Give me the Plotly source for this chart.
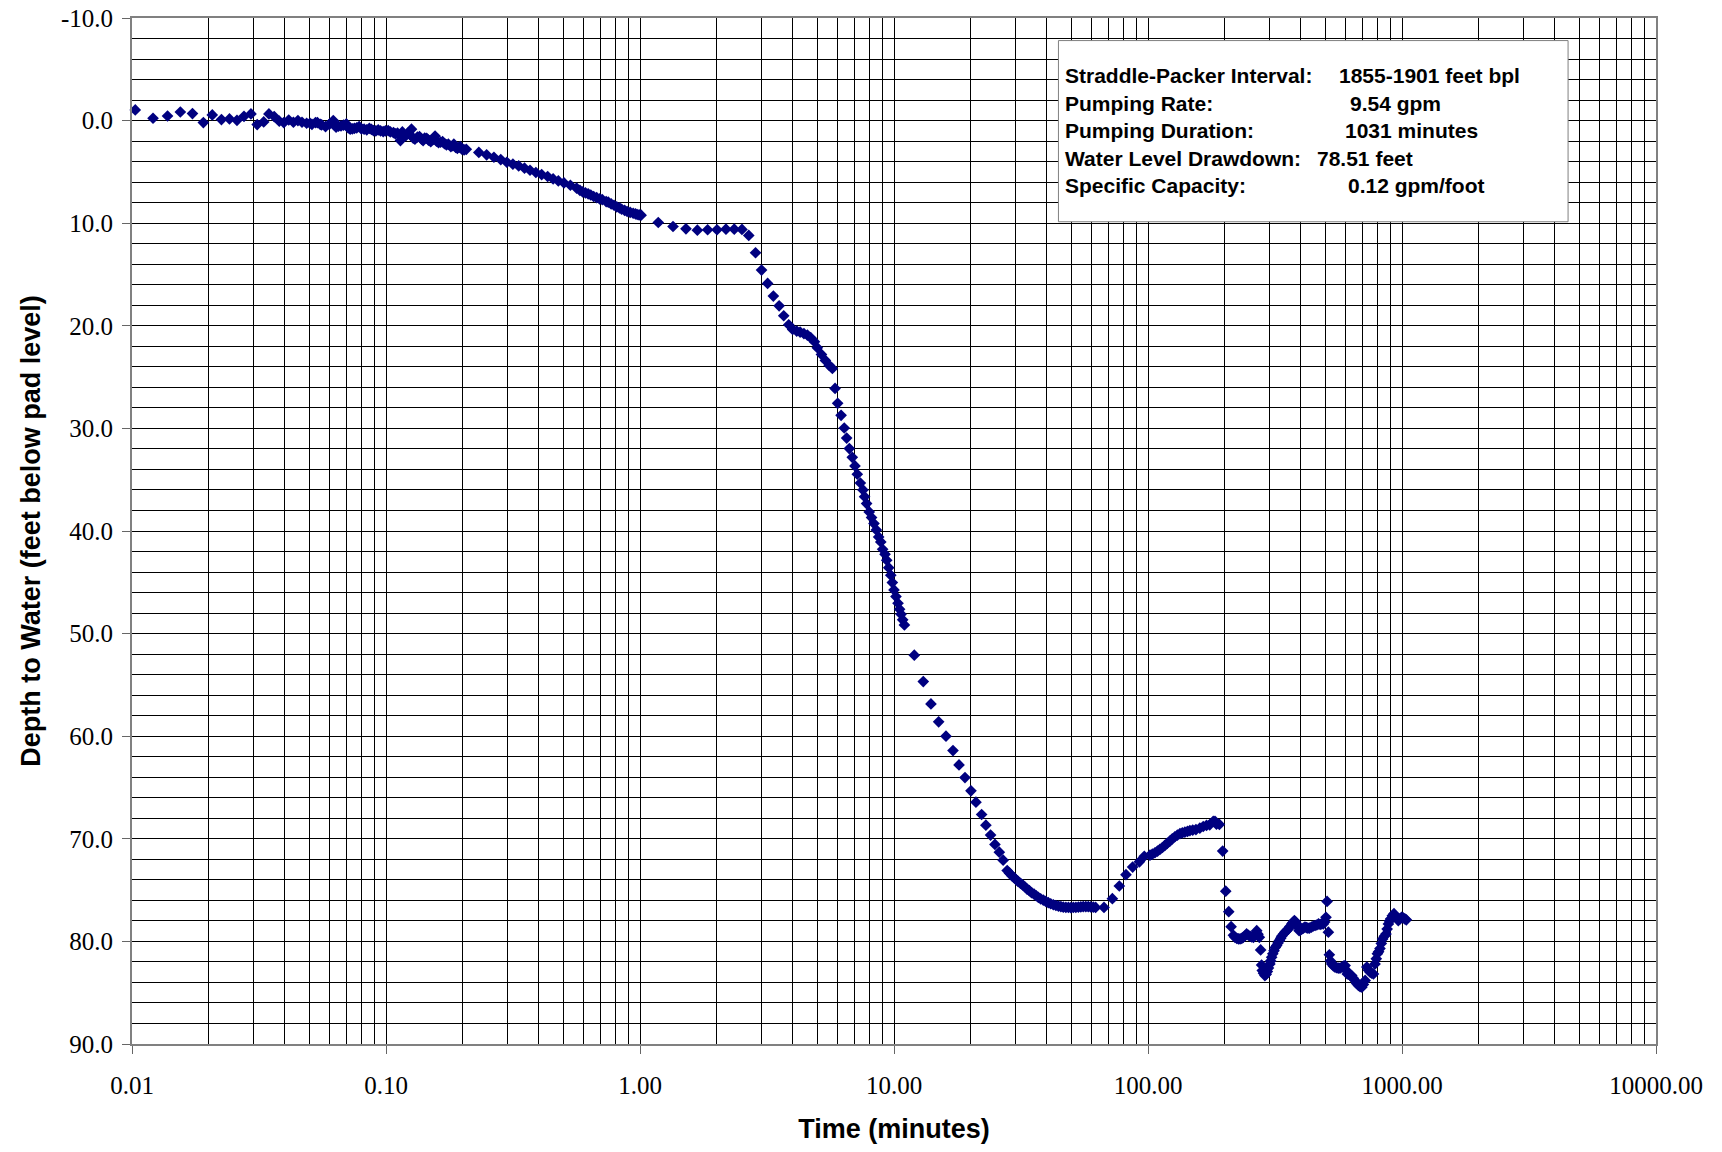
import plotly.graph_objects as go

# ---------------- data (time in minutes, depth to water in feet bpl) ----------------
t_a = [0.0103, 0.0121, 0.0138, 0.0155, 0.0173, 0.0191, 0.0207, 0.0225, 0.0242, 0.0259,
       0.0276, 0.0294, 0.0311, 0.0330, 0.0346, 0.0363, 0.0380, 0.0396]
d_a = [-1.04, -0.23, -0.45, -0.84, -0.68, 0.19, -0.55, -0.10, -0.16, -0.03,
       -0.42, -0.65, 0.39, 0.13, -0.65, -0.39, 0.06, 0.19]

t_b = [0.0414, 0.0432, 0.0450, 0.0467, 0.0487, 0.0502, 0.0511, 0.0528, 0.0537, 0.0551,
       0.0558, 0.0578, 0.0598, 0.0620, 0.0636, 0.0650, 0.0665, 0.0680, 0.0698, 0.0710,
       0.0723, 0.0737, 0.0751, 0.0767, 0.0784, 0.0800, 0.0820, 0.0840, 0.0860, 0.0876,
       0.0893, 0.0912, 0.0932, 0.0952, 0.0975, 0.0995, 0.102, 0.104, 0.107, 0.109,
       0.111, 0.114, 0.116, 0.118, 0.120, 0.1226, 0.126, 0.128, 0.130, 0.133,
       0.1355, 0.138, 0.140, 0.142, 0.1446, 0.147, 0.150, 0.153, 0.156, 0.158,
       0.161, 0.164, 0.167, 0.170, 0.173, 0.176, 0.180, 0.183, 0.185, 0.188,
       0.191, 0.194, 0.196, 0.199, 0.203, 0.207]
d_b = [-0.06, 0.16, 0.00, 0.16, 0.26, 0.26, 0.36, 0.19, 0.19, 0.36,
       0.42, 0.58, 0.36, 0.00, 0.65, 0.55, 0.52, 0.45, 0.32, 0.70,
       0.84, 0.80, 0.75, 0.70, 0.58, 0.80, 0.84, 0.90, 0.75, 0.85,
       0.97, 1.00, 0.91, 1.00, 1.07, 1.00, 0.97, 1.10, 1.17, 1.30,
       1.23, 1.95, 1.10, 1.40, 1.45, 1.17, 0.84, 1.70, 1.82, 1.60,
       1.56, 1.80, 1.95, 1.70, 1.72, 1.90, 2.05, 1.85, 1.50, 2.00,
       2.14, 2.10, 2.05, 2.25, 2.37, 2.30, 2.53, 2.45, 2.30, 2.60,
       2.70, 2.60, 2.53, 2.79, 2.86, 2.80]

t_c = [0.232, 0.249, 0.266, 0.283, 0.299, 0.316, 0.333, 0.351, 0.369, 0.389,
       0.410, 0.433, 0.455, 0.477, 0.502, 0.532, 0.563, 0.580, 0.595, 0.610,
       0.625, 0.640, 0.657, 0.675, 0.694, 0.710, 0.736, 0.750, 0.770, 0.790,
       0.810, 0.830, 0.847, 0.870, 0.890, 0.915, 0.940, 0.960, 0.975, 0.992, 1.01]
d_c = [3.10, 3.34, 3.57, 3.80, 4.06, 4.25, 4.42, 4.64, 4.84, 5.06,
       5.26, 5.45, 5.68, 5.88, 6.07, 6.30, 6.59, 6.80, 6.95, 7.05,
       7.14, 7.25, 7.40, 7.50, 7.63, 7.70, 7.89, 7.95, 8.12, 8.25,
       8.41, 8.50, 8.64, 8.75, 8.86, 8.95, 9.03, 9.10, 9.15, 9.19, 9.22]

t_d = [1.18, 1.349, 1.517, 1.682, 1.846, 2.01, 2.18, 2.35, 2.52, 2.68,
       2.85, 3.01, 3.18, 3.35, 3.53, 3.68, 3.85, 3.99, 4.14, 4.27,
       4.42, 4.56, 4.70, 4.86, 4.99, 5.18, 5.37, 5.56, 5.72, 5.86,
       6.00, 6.19, 6.37, 6.51, 6.67, 6.85, 7.02, 7.17, 7.37, 7.55,
       7.66, 7.80, 7.99, 8.16, 8.34, 8.52, 8.70, 8.87, 9.02, 9.22,
       9.36, 9.53, 9.71, 9.85, 10.0, 10.18, 10.37, 10.52, 10.66, 10.82, 10.99]
d_d = [9.93, 10.32, 10.55, 10.68, 10.64, 10.64, 10.58, 10.58, 10.61, 11.19,
       12.88, 14.57, 15.87, 17.10, 18.05, 19.02, 19.90, 20.35, 20.51, 20.61,
       20.77, 20.90, 21.16, 21.55, 22.14, 22.79, 23.37, 23.86, 24.15, 26.10,
       27.56, 28.73, 29.96, 30.94, 31.97, 32.82, 33.66, 34.47, 35.32, 36.00,
       36.65, 37.33, 38.14, 38.69, 39.28, 39.90, 40.58, 41.06, 41.78, 42.27,
       42.85, 43.57, 44.31, 45.03, 45.74, 46.39, 47.04, 47.62, 48.11, 48.66, 49.15]

t_e = [12.02, 13.04, 13.98, 14.99, 16.02, 17.07, 18.03, 19.03, 20.09, 21.02,
       22.13, 23.0, 24.0, 24.97, 25.98, 26.9, 27.9, 28.5, 29.1, 29.6,
       30.2, 30.8, 31.5, 32.1, 32.8, 33.4, 34.1, 34.8, 35.6, 36.3,
       37.0, 37.8, 38.7]
d_e = [52.1, 54.68, 56.85, 58.6, 60.0, 61.4, 62.8, 64.03, 65.32, 66.43,
       67.63, 68.67, 69.64, 70.55, 71.3, 72.08, 73.1, 73.35, 73.6, 73.75,
       73.96, 74.15, 74.35, 74.5, 74.7, 74.9, 75.06, 75.25, 75.4, 75.55,
       75.7, 75.85, 75.97]

t_f = [39.6, 40.5, 41.4, 42.4, 43.4, 44.4, 45.4, 46.4, 47.5, 48.6,
       49.7, 50.8, 52.0, 53.2, 54.4, 55.6, 56.9, 58.2, 59.5, 60.9, 62.2, 67.1]
d_f = [76.1, 76.23, 76.33, 76.43, 76.5, 76.56, 76.62, 76.66, 76.68, 76.69,
       76.7, 76.69, 76.68, 76.66, 76.64, 76.62, 76.62, 76.62, 76.64, 76.66, 76.69, 76.69]

t_g = [72.4, 77.1, 81.9, 87.0, 92.5, 96.7, 101.8, 104.0, 106.5, 109.0,
       111.4, 114.0, 116.5, 119.0, 121.9, 124.6, 127.6, 130.5, 133.6, 136.5,
       139.7, 143.0, 146.2, 150.0, 154.4, 160.0, 165.0, 170.0, 175.0, 180.7,
       183.6, 186.0, 191.0, 196.8]
d_g = [75.84, 74.6, 73.5, 72.76, 72.24, 71.7, 71.6, 71.5, 71.36, 71.2,
       71.04, 70.85, 70.65, 70.45, 70.23, 70.0, 69.8, 69.65, 69.5, 69.42,
       69.35, 69.28, 69.2, 69.15, 69.1, 68.95, 68.8, 68.7, 68.64, 68.3,
       68.3, 68.57, 68.6, 71.2]

t_h = [202.3, 207.9, 212.4, 216.9, 220, 223.6, 227, 230.4, 234, 237,
       241, 244.5, 248.4, 252.3, 256, 260, 264, 268, 271, 274.4,
       277.6, 280, 281.8, 285, 288.6, 292, 295, 298, 302, 304,
       306.8, 310, 313.5, 317, 321, 325, 329, 333, 336, 341,
       346, 351, 357, 362, 368, 372, 377, 381, 385, 389,
       393.5, 398, 403, 409, 415, 421, 426, 432, 440, 448,
       455, 462, 469, 476, 483, 490, 496, 502, 507, 513,
       517.6, 523, 529, 537, 545, 553, 561, 570, 580, 589,
       597, 603, 609, 616, 624, 634, 643, 653, 663, 674,
       684, 695, 705, 716, 727, 738, 749, 760, 772, 783,
       792, 800, 809, 819, 829, 839, 852, 865, 874, 884,
       893, 903, 916, 930, 948, 967, 982, 996, 1010, 1026,
       1040]
d_h = [75.1, 77.1, 78.56, 79.4, 79.6, 79.7, 79.75, 79.76, 79.7, 79.6,
       79.45, 79.27, 79.4, 79.5, 79.55, 79.6, 79.3, 78.95, 79.3, 79.6,
       80.83, 82.3, 82.84, 83.1, 83.33, 83.2, 82.94, 82.6, 82.2, 81.9,
       81.55, 81.2, 80.9, 80.6, 80.4, 80.15, 79.92, 79.7, 79.5, 79.3,
       79.1, 78.95, 78.8, 78.55, 78.3, 78.15, 77.97, 78.1, 78.3, 78.6,
       78.95, 78.9, 78.8, 78.7, 78.6, 78.65, 78.7, 78.7, 78.6, 78.5,
       78.45, 78.4, 78.3, 78.35, 78.3, 78.3, 78.1, 77.65, 76.1, 79.1,
       81.3, 81.9, 82.2, 82.4, 82.5, 82.55, 82.6, 82.6, 82.5, 82.4,
       82.36, 82.8, 83.17, 83.2, 83.3, 83.33, 83.6, 83.8, 84.1, 84.3,
       84.4, 84.47, 84.2, 83.8, 82.5, 82.8, 83.0, 83.1, 83.17, 82.2,
       81.7, 81.2, 81.0, 80.7, 80.2, 79.76, 79.5, 79.27, 78.8, 78.3,
       78.0, 77.8, 77.5, 77.3, 77.6, 77.97, 77.8, 77.65, 77.7, 77.8,
       77.9]

time_min = t_a + t_b + t_c + t_d + t_e + t_f + t_g + t_h
depth_ft = d_a + d_b + d_c + d_d + d_e + d_f + d_g + d_h
assert len(time_min) == len(depth_ft)

x_tick_vals = [0.01, 0.1, 1, 10, 100, 1000, 10000]
x_tick_text = ["0.01", "0.10", "1.00", "10.00", "100.00", "1000.00", "10000.00"]
x_minor_vals = [m * 10 ** e for e in range(-2, 4) for m in range(2, 10)]
y_tick_vals = list(range(-10, 91, 10))
y_tick_text = [f"{v:.1f}" for v in y_tick_vals]

info_labels = ["Straddle-Packer Interval:", "Pumping Rate:", "Pumping Duration:",
               "Water Level Drawdown:", "Specific Capacity:"]
info_values = ["1855-1901 feet bpl", "9.54 gpm", "1031 minutes", "78.51 feet", "0.12 gpm/foot"]

# ---------------- figure ----------------
fig = go.Figure()
fig.add_trace(go.Scatter(
    x=time_min, y=depth_ft, mode="markers",
    marker=dict(symbol="diamond", size=9, color="#000080", line=dict(width=0)),
    showlegend=False, cliponaxis=False,
))

serif = "Liberation Serif, Times New Roman, serif"
sans = "Liberation Sans, Arial, sans-serif"

fig.update_layout(
    width=1722, height=1152,
    margin=dict(l=132, r=66, t=18, b=108, pad=0, autoexpand=False),
    paper_bgcolor="white", plot_bgcolor="white",
    xaxis=dict(
        type="log", range=[-2, 4], automargin=False,
        tickvals=x_tick_vals, ticktext=x_tick_text,
        tickfont=dict(family=serif, size=25, color="black"),
        ticks="outside", ticklen=8, tickcolor="#666666", tickwidth=1,
        ticklabelstandoff=10,
        showgrid=True, gridcolor="black", gridwidth=1,
        minor=dict(tickvals=x_minor_vals, showgrid=True, gridcolor="black", gridwidth=1, ticks=""),
        showline=True, linecolor="#808080", linewidth=2, mirror=True,
        zeroline=False,
        title=dict(text="Time (minutes)", font=dict(family=sans, size=27, color="black", weight="bold"),
                   standoff=21),
    ),
    yaxis=dict(
        range=[90, -10], automargin=False,
        tickvals=y_tick_vals, ticktext=y_tick_text,
        tickfont=dict(family=serif, size=25, color="black"),
        ticks="outside", ticklen=8, tickcolor="#666666", tickwidth=1,
        ticklabelstandoff=4,
        showgrid=True, gridcolor="black", gridwidth=1,
        minor=dict(dtick=2, showgrid=True, gridcolor="black", gridwidth=1, ticks=""),
        showline=True, linecolor="#808080", linewidth=2, mirror=True,
        zeroline=False,
        title=dict(text="Depth to Water (feet below pad level)",
                   font=dict(family=sans, size=27, color="black", weight="bold"), standoff=12),
    ),
)

# info box
fig.add_shape(type="rect", xref="paper", yref="paper",
              x0=0.6079, x1=0.9423, y0=0.8014, y1=0.978,
              line=dict(color="#808080", width=1), fillcolor="white", layer="above")

row_y = [0.9437, 0.9169, 0.8901, 0.8634, 0.8366]
val_x = [0.7909, 0.7981, 0.7945, 0.7762, 0.7966]
for lab, val, yy, vx in zip(info_labels, info_values, row_y, val_x):
    fig.add_annotation(text=lab, xref="paper", yref="paper", x=0.6106, y=yy,
                       xanchor="left", yanchor="middle", showarrow=False,
                       font=dict(family=sans, size=21, color="black", weight="bold"))
    fig.add_annotation(text=val, xref="paper", yref="paper", x=vx, y=yy,
                       xanchor="left", yanchor="middle", showarrow=False,
                       font=dict(family=sans, size=21, color="black", weight="bold"))

fig.write_html("out.html")
